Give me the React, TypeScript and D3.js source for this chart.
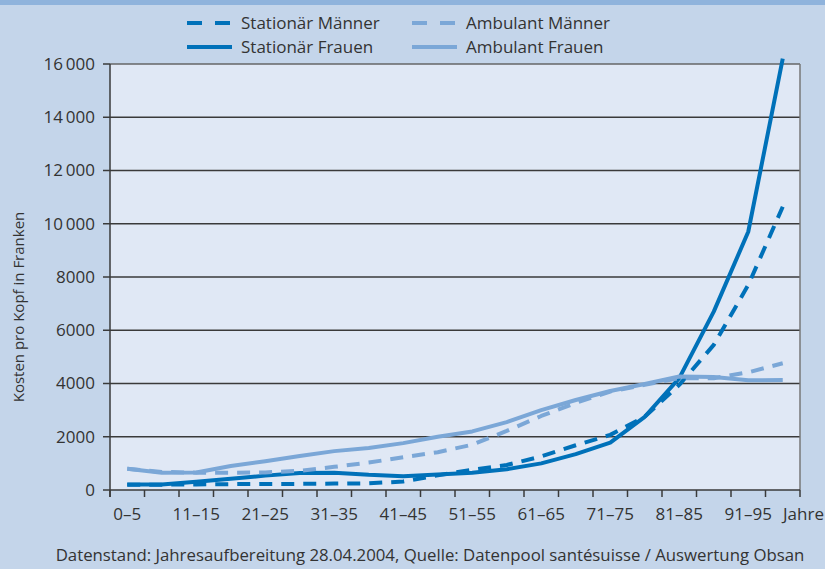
import React from "react";
import * as d3 from "d3";

const ageGroups = ["0–5","6–10","11–15","16–20","21–25","26–30","31–35","36–40","41–45","46–50","51–55","56–60","61–65","66–70","71–75","76–80","81–85","86–90","91–95","96+"];
const shownLabels = ["0–5","11–15","21–25","31–35","41–45","51–55","61–65","71–75","81–85","91–95"];
const stationaerMaenner = [200,200,210,220,230,230,240,250,320,550,760,940,1260,1680,2070,2750,3950,5450,7700,10640];
const stationaerFrauen = [210,210,310,420,540,640,650,570,520,580,650,780,1000,1350,1780,2750,4200,6700,9700,16200];
const ambulantMaenner = [800,680,650,650,660,720,870,1030,1230,1420,1700,2220,2780,3270,3700,3950,4200,4200,4420,4760];
const ambulantFrauen = [800,650,660,900,1080,1280,1460,1580,1760,2000,2200,2550,3000,3380,3720,3980,4260,4240,4120,4130];
const yTicks = [0,2000,4000,6000,8000,10000,12000,14000,16000];

const DARK = "#0071b9";
const LIGHT = "#7ba7d7";
const TEXT = "#333333";
const FONT = "'Open Sans', sans-serif";

const series = [
  { name: "Stationär Männer", values: stationaerMaenner, color: DARK, dash: "13 9" },
  { name: "Stationär Frauen", values: stationaerFrauen, color: DARK, dash: null },
  { name: "Ambulant Männer", values: ambulantMaenner, color: LIGHT, dash: "13 9" },
  { name: "Ambulant Frauen", values: ambulantFrauen, color: LIGHT, dash: null },
];

const fmt = (v: number) => (v >= 10000 ? d3.format(",")(v).replace(",", "\u2009") : String(v));

export default function App() {
  const W = 825, H = 569;
  const left = 110, right = 800, top = 64, bottom = 490;
  const x = d3.scaleBand<string>().domain(ageGroups).range([left, right]).padding(0);
  const y = d3.scaleLinear().domain([0, 16000]).range([bottom, top]);
  const cx = (i: number) => (x(ageGroups[i]) as number) + x.bandwidth() / 2;
  const line = d3.line<number>().x((_, i) => cx(i)).y((d) => y(d));
  const boundaries = ageGroups.map((g) => x(g) as number).concat([right]);

  const legendItems = [
    { s: series[0], lx: 187, ly: 23 },
    { s: series[2], lx: 412, ly: 23 },
    { s: series[1], lx: 187, ly: 47 },
    { s: series[3], lx: 412, ly: 47 },
  ];

  return (
    <svg width={W} height={H} style={{ position: "absolute", left: 0, top: 0 }} fontFamily={FONT}>
      <rect x={0} y={0} width={W} height={H} fill="#c4d5ea" />
      <rect x={0} y={0} width={W} height={5} fill="#8fb3dc" />
      <rect x={left} y={top} width={right - left} height={bottom - top} fill="#e0e8f5" />
      {yTicks.map((t) => (
        <g key={t}>
          {t > 0 && <line x1={left} x2={right} y1={y(t)} y2={y(t)} stroke={t === 16000 ? "#666" : "#3a3a3a"} strokeWidth={1.5} />}
          <line x1={left - 7} x2={left} y1={y(t)} y2={y(t)} stroke="#3a3a3a" strokeWidth={1.5} />
          <text x={95} y={y(t)} dy="0.35em" textAnchor="end" fontSize={17} fill={TEXT}>{fmt(t)}</text>
        </g>
      ))}
      <line x1={right} x2={right} y1={top} y2={bottom} stroke="#777" strokeWidth={1.5} />
      <line x1={left} x2={left} y1={top} y2={bottom + 7} stroke="#3a3a3a" strokeWidth={1.5} />
      <line x1={left} x2={right} y1={bottom} y2={bottom} stroke="#3a3a3a" strokeWidth={1.5} />
      {boundaries.map((b, i) => (
        <line key={i} x1={b} x2={b} y1={bottom} y2={bottom + 7} stroke="#3a3a3a" strokeWidth={1.5} />
      ))}
      {shownLabels.map((g) => (
        <text key={g} x={(x(g) as number) + x.bandwidth() / 2} y={520} textAnchor="middle" fontSize={17} fill={TEXT}>{g}</text>
      ))}
      <text x={right - 17} y={520} fontSize={17} fill={TEXT}>Jahre</text>
      <text transform={`translate(24, ${(top + bottom) / 2 + 30}) rotate(-90)`} textAnchor="middle" fontSize={15} fill={TEXT}>Kosten pro Kopf in Franken</text>
      {series.map((s) => (
        <path key={s.name} d={line(s.values) as string} fill="none" stroke={s.color} strokeWidth={4} strokeDasharray={s.dash ?? undefined} strokeLinejoin="round" />
      ))}
      {legendItems.map(({ s, lx, ly }) => (
        <g key={s.name}>
          <line x1={lx} x2={lx + 45} y1={ly} y2={ly} stroke={s.color} strokeWidth={4} strokeDasharray={s.dash ? "15 13" : undefined} />
          <text x={lx + 54} y={ly} dy="0.35em" fontSize={17} fill={TEXT}>{s.name}</text>
        </g>
      ))}
      <text x={430} y={561} textAnchor="middle" fontSize={16.8} fill={TEXT}>Datenstand: Jahresaufbereitung 28.04.2004, Quelle: Datenpool santésuisse / Auswertung Obsan</text>
    </svg>
  );
}
